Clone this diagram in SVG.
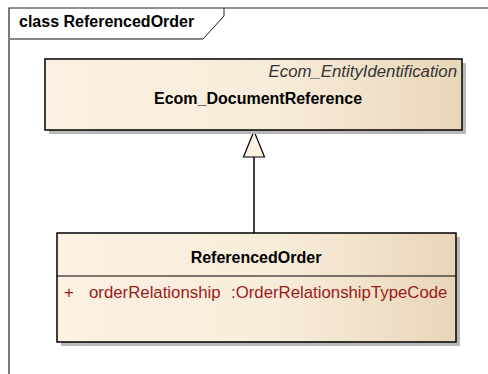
<svg xmlns="http://www.w3.org/2000/svg" width="488" height="374" viewBox="0 0 488 374">
  <defs>
    <linearGradient id="cls" x1="0" y1="0" x2="1" y2="0">
      <stop offset="0" stop-color="#FCF1E2"/>
      <stop offset="0.55" stop-color="#F8ECDA"/>
      <stop offset="1" stop-color="#E9D6B9"/>
    </linearGradient>
    <style>
      .t{font-family:"Liberation Sans",Arial,sans-serif}
      .b{font-weight:bold;font-size:16px;fill:#000}
      .i{font-style:italic;font-size:16.8px;fill:#333}
      .a{font-size:16.8px;fill:#9B1B1B}
      .box{fill:url(#cls);stroke:#000;stroke-width:1.5}
      .shadow{fill:#B8B8B8}
    </style>
  </defs>
  <rect width="488" height="374" fill="#fff"/>
  <g id="frame">
    <path d="M9,374 V8 H488" fill="none" stroke="#222" stroke-width="1.2"/>
    <path d="M9,39 H203 L224,16 V8" fill="none" stroke="#222" stroke-width="1"/>
    <line x1="9" y1="39" x2="203" y2="39" stroke="#888" stroke-width="2"/>
    <text class="t b" x="19" y="27">class ReferencedOrder</text>
  </g>
  <g id="connectors">
    <line x1="254" y1="157" x2="254" y2="233" stroke="#000" stroke-width="1.5"/>
    <polygon points="254,131 243.5,157 264.5,157" fill="#FBF0E1" stroke="#000" stroke-width="1.2"/>
  </g>
  <g id="Ecom_DocumentReference">
    <rect class="shadow" x="49" y="63" width="417" height="71"/>
    <rect class="box" x="45" y="59" width="417" height="71"/>
    <text class="t i" x="457" y="77" text-anchor="end">Ecom_EntityIdentification</text>
    <text class="t b" x="258" y="104" text-anchor="middle">Ecom_DocumentReference</text>
  </g>
  <g id="ReferencedOrder">
    <rect class="shadow" x="61" y="237" width="399" height="109"/>
    <rect class="box" x="57" y="233" width="399" height="109"/>
    <line x1="57" y1="276" x2="456" y2="276" stroke="#000" stroke-width="1.2"/>
    <text class="t b" x="256" y="263" text-anchor="middle">ReferencedOrder</text>
    <text class="t a" x="64" y="298">+</text>
    <text class="t a" x="89" y="298">orderRelationship</text>
    <text class="t a" x="231" y="298">:OrderRelationshipTypeCode</text>
  </g>
</svg>
